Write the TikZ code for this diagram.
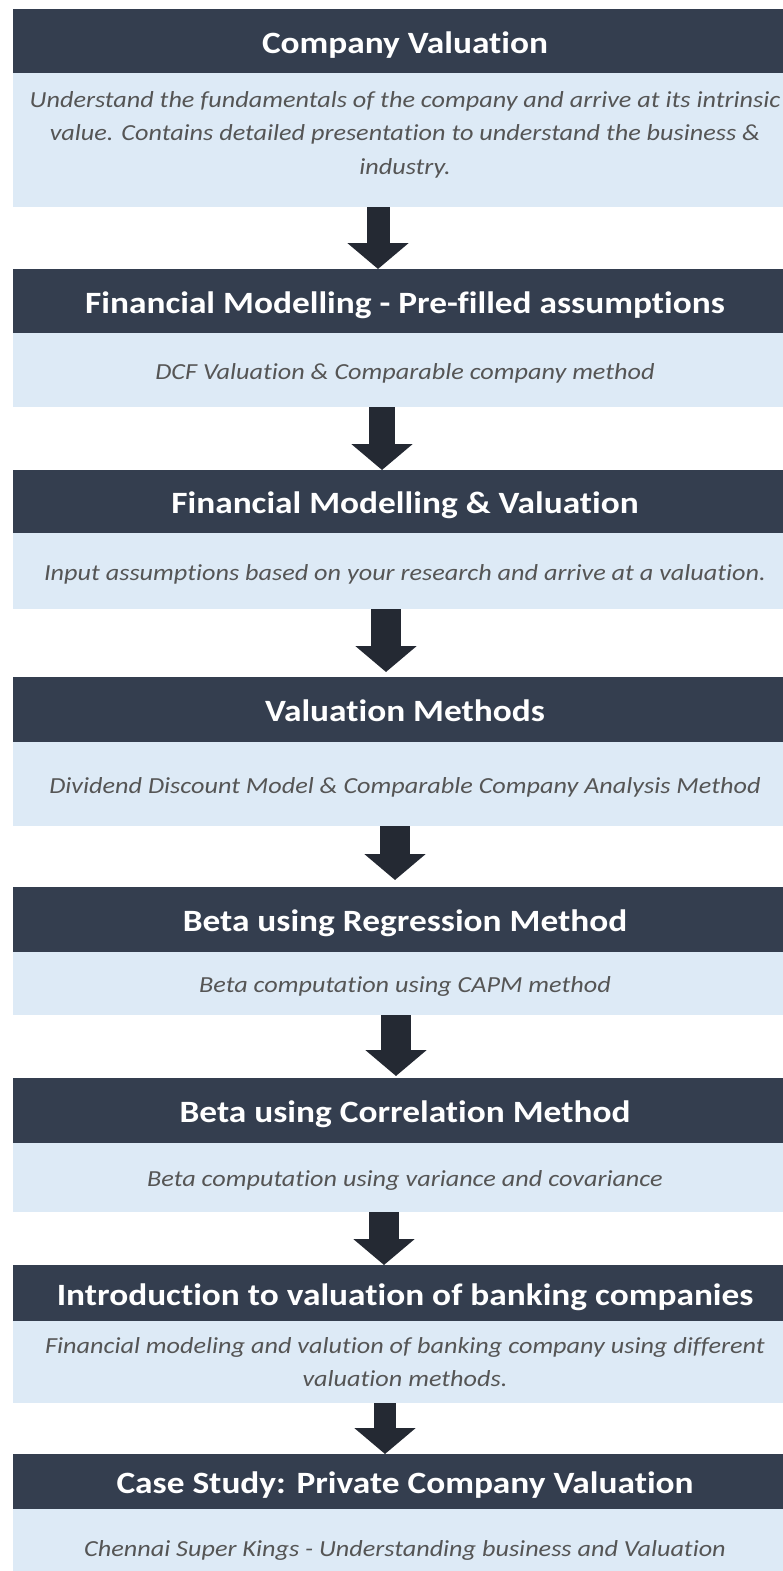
\documentclass[tikz,border=0pt]{standalone}
\usepackage{fontspec}
\setmainfont{Carlito}[FakeStretch=1.14, Ligatures=NoCommon]
\usetikzlibrary{arrows.meta}
\definecolor{hdrc}{HTML}{343E4F}
\definecolor{bodyc}{HTML}{DDEAF6}
\definecolor{arrc}{HTML}{242933}
\definecolor{txtc}{HTML}{555555}
\begin{document}
\begin{tikzpicture}[x=1pt,y=-1pt,
 hdr/.style={rectangle, fill=hdrc, text=white, minimum width=785pt, inner sep=0pt, outer sep=0pt, anchor=north,
   font=\fontsize{31}{37}\selectfont\bfseries, text height=24pt, text depth=0pt},
 bodybox/.style={rectangle, fill=bodyc, text=txtc, minimum width=785pt, inner sep=0pt, outer sep=0pt, anchor=north,
   font=\fontsize{23}{33.5}\selectfont\itshape, align=center},
 oneline/.style={text height=18pt, text depth=0pt},
 flow/.style={draw=arrc, line width=#1, -{Triangle[width=60pt,length=26pt]}},
 flow/.default=26pt
]
\useasboundingbox (0,0) rectangle (782,1571);

\node[hdr, minimum height=64pt] (h1) at (405,9) {Company Valuation};
\node[bodybox, minimum height=134pt, text depth=14pt] (b1) at (405,73) {Understand the fundamentals of the company and arrive at its intrinsic\\ value. Contains detailed presentation to understand the business \&\\ industry.};

\node[hdr, minimum height=64pt] (h2) at (405,269) {Financial Modelling - Pre-filled assumptions};
\node[bodybox, oneline, minimum height=74pt] (b2) at (405,333) {DCF Valuation \& Comparable company method};

\node[hdr, minimum height=63pt] (h3) at (405,470) {Financial Modelling \& Valuation};
\node[bodybox, oneline, minimum height=76pt] (b3) at (405,533) {Input assumptions based on your research and arrive at a valuation.};

\node[hdr, minimum height=65pt] (h4) at (405,677) {Valuation Methods};
\node[bodybox, oneline, minimum height=84pt] (b4) at (405,742) {Dividend Discount Model \& Comparable Company Analysis Method};

\node[hdr, minimum height=65pt] (h5) at (405,887) {Beta using Regression Method};
\node[bodybox, oneline, minimum height=63pt] (b5) at (405,952) {Beta computation using CAPM method};

\node[hdr, minimum height=65pt] (h6) at (405,1078) {Beta using Correlation Method};
\node[bodybox, oneline, minimum height=69pt] (b6) at (405,1143) {Beta computation using variance and covariance};

\node[hdr, minimum height=56pt] (h7) at (405,1265) {Introduction to valuation of banking companies};
\node[bodybox, minimum height=82pt] (b7) at (405,1321) {Financial modeling and valution of banking company using different\\ valuation methods.};

\node[hdr, minimum height=55pt] (h8) at (405,1454) {Case Study: Private Company Valuation};
\node[bodybox, oneline, minimum height=76pt] (b8) at (405,1509) {Chennai Super Kings - Understanding business and Valuation};

\draw[flow=23pt] ([xshift=-27pt]b1.south) -- ([xshift=-27pt]h2.north);
\draw[flow=26pt] ([xshift=-23pt]b2.south) -- ([xshift=-23pt]h3.north);
\draw[flow=30pt, shorten >=5pt] ([xshift=-19pt]b3.south) -- ([xshift=-19pt]h4.north);
\draw[flow=30pt, shorten >=7pt] ([xshift=-10pt]b4.south) -- ([xshift=-10pt]h5.north);
\draw[flow=30pt, shorten >=2pt] ([xshift=-9pt]b5.south) -- ([xshift=-9pt]h6.north);
\draw[flow=30pt] ([xshift=-21pt]b6.south) -- ([xshift=-21pt]h7.north);
\draw[flow=22pt] ([xshift=-20pt]b7.south) -- ([xshift=-20pt]h8.north);
\end{tikzpicture}
\end{document}
